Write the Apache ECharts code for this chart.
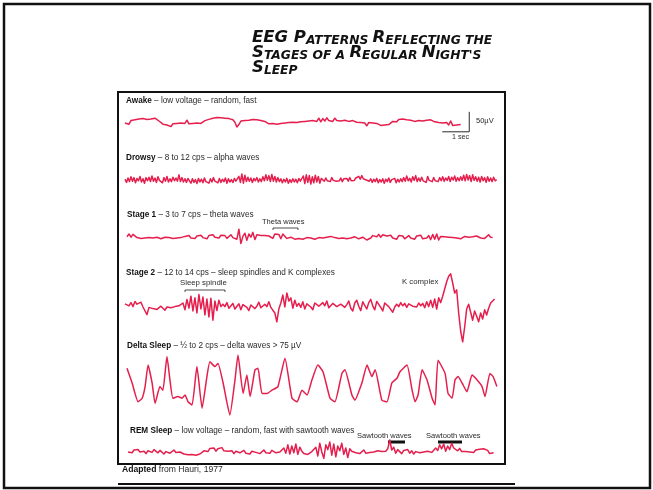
<!DOCTYPE html>
<html lang="en">
<head>
<meta charset="UTF-8">
<script src="https://cdn.jsdelivr.net/npm/echarts@6/dist/echarts.min.js"></script>
<style>html,body{margin:0;padding:0;background:#fff;}</style>
</head>
<body>
<div id="eegChart" style="width:653px;height:490px;"></div>
<script type="text/javascript">

// EEG amplitudes in µV (up = positive)
var awakeStep = 0.074; // seconds between samples
var awake = [0, 5, -3, 6, 2, 8, 3, 10, 5, 11, 6, 9,
    13, 10, 15, 12, 14, 5,
    2, -3, 1, -5, 0, -9, -2, 1, -1, 2, 0,
    -2, -1, 7, -2, -3, -1, -2, 0, -3, -1,
    3, 6, 4, 9, 7, 12, 8, 14, 10, 13, 9, 12, 15, 11, 14, 8,
    2, -10, -4, 5, 8, 6,
    11, 7, 12, 9, 13, 8, 11, 6, 9, 4,
    1, -2, -5, -1, 0, -3, 1, -1, 2, 0, -2, 1, 0,
    2, 4, 1, 5, 3, 7, 4, 8, 5, 9, 6, 10,
    4, 12, 3, 11, 5, 13, 6, 10, 4, 12, 6, 11, 5, 10, 7, 9, 4, 8, 6, 3,
    2, 4, 1, 3, 0, -7, 1, 3, 0, 2, -1,
    -4, -6, -3, -5, -2, -4, 0,
    4, 7, 3, 9, 6, 10, 5, 8, 11, 7, 9, 4, 8, 6, 10, 5, 9, 7, 5, 8, 4, 3,
    2, 1, 3, 0, 2, 1,
    -5, 5, -6, -3, -5, -2, -4];

var drowsyStep = 0.0555;
var drowsy = [2, -6, 5, -4, 8, -3, 6, -7, 4, -2, 9, -5, 3, -8, 6, -2, 7, -4, 10, -3, 5, -6, 8, -1, 4, -7, 6, -3, 9, -5, 3, -4, 7, -2,
    5, -3, 13, -4, 6, -5, 3, -6, 4,
    -2, -8, 3, -6, 1, -9, 4, -5, 2, -7, 5, -4, 0, -8, 3, -5, 6, -3, 1, -7, 4, -6, 2, -4, 5, -8, 3, -5, 1, -6, 4, -3, 2,
    9, -6, 15, -8, 12, -4, 7,
    -3, 5, -6, 4, -2, 6, -5, 3, -4,
    8, -2, 13, -1, 11, -4, 14, -3, 9, -5, 6,
    -4, 3, -7, 2, -5, 4, -8, 1, -6, 3, -5, 2, -7, 4, -3, 1,
    10, -9, 13, -6, 11, -10, 8, -7, 12, -5, 9, -8, 4,
    2, -3, 5, -2, 3, -4, 6, -1, 4, -3, 2, -2, 5, -4, 3, -1, 4, -3, 6, -2, 3, -1,
    5, 1, 9, 2, 11, 3, 8, 0, 4,
    -3, 3, -6, 2, -4, 4, -7, 1, -5, 3, -8, 2, -4, 5, -6, 1, -3, 4, -7, 2, -5, 3, -4,
    6, -3, 10, -2, 4, -5, 8, -1, 11, -4, 5, -3, 7, -2, 3, -6, 9, -1, 4, -4, 6, -2,
    3, -4, 6, -2, 8, -3, 5, -1, 9, -4, 7, 0, 10, -3, 6, -2, 8, -1,
    12, -2, 14, 0, 11, -4, 13, -1, 8,
    -3, 7, -5, 9, -2, 6, -6, 8, -3, 5, -4, 7, -2, 1];

var stage1Step = 0.074;
var stage1 = [3, 10, 2, 9, 4,
    1, 3, -1, 2, 0, -2, 1, 3, 0, -1, 2, 1, -2, 0, 2, -1,
    1, 4, -1, 3, 0, 5, 1, -2, 4, 2, 6, 0, 3, -1, 5, 2, 7, 1, 4, -2, 6, 3, 8, 2,
    5, 0, 7, 2, 6, -1, 4, 8, 1, 5, -3,
    22, -14, 4,
    12, -6, 10, 2, 14, -4, 8, 3, 6,
    4, 6, 3, 5, 4,
    -1, 10, 11, 9, -2, 10, 10, -1,
    -6, 2, 0, -3,
    -2, -1, 0, -3, -1, 1, -2, 0, -1, -3, 0, 1, -2, 0, 1, 2,
    7, 4, 8, 1,
    2, -1, 3, 0, 1, -2, 2, 0, -1, 3, 1, -2, 0, 2, -3, -5, -1, 0,
    6, 11, 3, 9, 2, 8, 4,
    5, 1, 7, 0, 4, -3, 6, 2, 5, -2, 3, 6, 0, 4, -3, 5, 1, 7, -2, 3, 0, 6, -4, 9, -3, 10, -5, 4, 1, 3, 0,
    2, -1, 1, 3, 0, 2, -2, 1, 4, 0, 2, -1, 3, 1, 5, 2, 0, 3, -1, 1,
    8, 2, 1];

var stage2Step = 0.074;
var stage2 = [3, 8, -2, 6, -4, 9, 2, -3, 7, -5, 0,
    -24,
    -6, -2, -9, -4, -11, -6, -3, -8, -13, -5, -2, -7, -10, -4, -6, -2, -5,
    5, -12, 14, -8, 22, -15, 18, -20, 26, -10, 20, -25, 15, -30, 17, -38, 10, -14, 12, -4,
    2, -4, 6, -8, -3, 4, -10, -5, 3, -12, 1, 6, -6, -14, 0, 5, -9, -3, 7, -7, -12, 2, -4, 8, -6, -2,
    -20, -42, -10, 5,
    25, -5, 30, 10, 18, -8, 12, -3,
    4, -6, 8, -10, 3, 7, -5, -12, 5, 9, -3, -8, 6, -2, 10, -7, -11, 4, 8, -4, -9, 2, 6, -6, 1,
    10, -8, -15, 5, 12, -3, -14, 8, 11, -10,
    6, 14, -2, -12, 9, 13, -6, -15, 5, 10, -4, -9, -18, -5,
    2, -4, 6, -2, 4, -6, 3, 7, -3, 1, -5, 5, -2, 4, -7, 8, -4, 12, -6, 15, -10, 18, 6,
    22, 40, 58, 72, 78,
    55, 30, 38,
    -20, -65, -92,
    -55, -10, 2,
    -18, -38, -15, -28, -42, -20, -35, -12, -25, -8, 5, 2, 15];

// delta sleep: turning points of the slow waves (seconds, µV)
var deltaTime = [0.00, 0.19, 0.41, 0.56, 0.67, 0.78, 0.93, 1.04, 1.22, 1.33, 1.48, 1.59, 1.70, 1.89, 2.04, 2.15,
    2.26, 2.41, 2.59, 2.78, 2.96, 3.07, 3.26, 3.37, 3.56, 3.81, 4.00, 4.11, 4.30, 4.44, 4.56, 4.74,
    4.85, 5.00, 5.19, 5.37, 5.59, 5.85, 6.11, 6.30, 6.48, 6.67, 6.85, 7.07, 7.26, 7.52, 7.70, 7.96,
    8.07, 8.33, 8.44, 8.70, 8.89, 9.07, 9.19, 9.44, 9.63, 9.81, 10.00, 10.11, 10.37, 10.56, 10.67, 10.78,
    10.93, 11.11, 11.30, 11.41, 11.52, 11.78, 11.89, 12.04, 12.15, 12.26, 12.41, 12.59, 12.78, 12.96, 13.15, 13.26,
    13.44, 13.56, 13.70];
var delta = [37, 0, -47, -38, -9, 45, 0, -51, -9, -18, 66, 8, -38, -34, -38, -30,
    -47, -55, 41, -63, 16, 53, 41, 49, 0, -80, 8, 70, -26, 20, -34, 33,
    37, -26, -26, -18, -9, 62, -38, -47, -18, -30, 8, 45, 28, -38, -47, 24,
    33, -30, -43, 0, 45, 16, 33, -43, -47, 0, 12, 28, 45, -18, -47, -30,
    33, 8, -38, -55, 57, 24, -26, -38, 8, 16, 0, -22, 20, 8, -9, -34,
    24, 16, -9];

var remStep = 0.074;
var rem = [0, 4, -2, 5, 1, 6, 0, -3, 2, -4, 3, 5, -1, 6, 2, -2, 4, 0, -5, 1, 3, -3, 2, 5, -1, 3, 0, -2,
    -5, -3, -7, -2, -6, -4, -8, -3, -5, -1,
    3, 6, 1, 9, 4, 10, 2, 8, 5, 11, 3, 7, 2,
    -1, 3, -4, 2, 5, -2, 0, 4, -3, 1, -5, 2, 4, -1, 3, -4, 0, 5, -2, 2, -3, 4, 1, -2, 3, 0, 2,
    10, -3, 18, -5, 15, -2, 20, -6, 12, 2,
    -4, 0, -6, -2, 1, -3,
    12, -10, 22, 0, -16, 18, 6, 25, -8, 20, -12, 15, 3, 22, -6, 10, -14, 8, 2, 5,
    -2, 3, -4, 1, 5, -3, 2, -1, 4, 0, -3, 3, 6, 1, 4, 2,
    8, 30, 5, 12, -3, 6,
    2, -4, 4, 0, 6, -3, 3, -5, 1, 5, -2, 3, 0, -4, 2, 5, -1, 3,
    10, 4, 18, 8, 20, 2, 15, 6, 22, 10, 14, 3, 9, 1,
    -2, 1, -3, 0, 2, -1,
    5, 9, 7, 12, 8, 10, 4,
    -4, -6, -2];

// calibration bar on the awake trace: 1 sec, 50 µV
var scaleBarTime = [11.75, 12.75, 12.75];
var scaleBarUv = [-22, -22, 28];

var pxPerSec = 27;
var uvPerPx = 2.5;
var traceColor = "#e51f4d";
var inkColor = "#2a2a2a";
var fontFamily = "Liberation Sans";

function uniformPairs(values, step) {
    return values.map((v, i) => [i * step, v]);
}

var traces = [
    { data: uniformPairs(awake, awakeStep), left: 125, mid: 123, height: 40, span: scaleBarTime[2] },
    { data: uniformPairs(drowsy, drowsyStep), left: 125, mid: 180, height: 40 },
    { data: uniformPairs(stage1, stage1Step), left: 127, mid: 238, height: 40 },
    { data: uniformPairs(stage2, stage2Step), left: 125, mid: 305, height: 100 },
    { data: deltaTime.map((t, i) => [t, delta[i]]), left: 127, mid: 383, height: 80, smooth: 0.15 },
    { data: uniformPairs(rem, remStep), left: 128, mid: 452, height: 30 }
];

var grids = [], xAxes = [], yAxes = [], series = [];
traces.forEach(function (tr, i) {
    var duration = Math.max(tr.data[tr.data.length - 1][0], tr.span || 0);
    var half = tr.height / 2 * uvPerPx;
    grids.push({ left: tr.left, top: tr.mid - tr.height / 2, width: duration * pxPerSec, height: tr.height });
    xAxes.push({ type: "value", gridIndex: i, min: 0, max: duration, show: false });
    yAxes.push({ type: "value", gridIndex: i, min: -half, max: half, show: false });
    series.push({
        type: "line", xAxisIndex: i, yAxisIndex: i, data: tr.data,
        showSymbol: false, smooth: tr.smooth || false, clip: false,
        lineStyle: { color: traceColor, width: 1.5, join: "round" }
    });
});

series.push({
    type: "line", xAxisIndex: 0, yAxisIndex: 0, clip: false, showSymbol: false,
    data: scaleBarTime.map((t, i) => [t, scaleBarUv[i]]),
    lineStyle: { color: inkColor, width: 1 }
});

function label(x, y, text, size, extra) {
    return Object.assign({
        type: "text", x: x, y: y,
        style: {
            text: text, fontSize: size || 8.2, fontFamily: fontFamily, fill: inkColor,
            verticalAlign: "middle",
            rich: { b: { fontWeight: "bold", fontSize: size || 8.2, fontFamily: fontFamily, fill: "#111" } }
        }
    }, extra || {});
}

function titleLine(y, text) {
    var base = { fontWeight: "bold", fontStyle: "italic", fontFamily: "DejaVu Sans", fill: "#111", verticalAlign: "bottom" };
    return {
        type: "text", x: 252, y: y,
        style: {
            text: text, verticalAlign: "middle",
            rich: {
                c: Object.assign({ fontSize: 16.5, lineHeight: 17 }, base),
                s: Object.assign({ fontSize: 12.3, lineHeight: 16 }, base)
            }
        }
    };
}

function hline(x1, x2, y, w) {
    return { type: "line", shape: { x1: x1, y1: y, x2: x2, y2: y }, style: { stroke: "#111", lineWidth: w || 1 } };
}
function bracket(x1, x2, y) {
    return { type: "polyline", shape: { points: [[x1, y + 2], [x1, y], [x2, y], [x2, y + 2]] }, style: { stroke: "#222", lineWidth: 0.8, fill: null } };
}

var graphics = [
    { type: "rect", shape: { x: 4, y: 4, width: 646, height: 484 }, style: { stroke: "#111", lineWidth: 2.5, fill: null } },
    { type: "rect", shape: { x: 118, y: 92, width: 387, height: 372 }, style: { stroke: "#111", lineWidth: 2, fill: null } },
    hline(118, 515, 484, 2),
    titleLine(38, "{c|EEG P}{s|ATTERNS }{c|R}{s|EFLECTING THE}"),
    titleLine(53, "{c|S}{s|TAGES OF A }{c|R}{s|EGULAR }{c|N}{s|IGHT'S}"),
    titleLine(68, "{c|S}{s|LEEP}"),
    label(126, 101, "{b|Awake} – low voltage – random, fast"),
    label(126, 158, "{b|Drowsy} – 8 to 12 cps – alpha waves"),
    label(127, 215, "{b|Stage 1} – 3 to 7 cps – theta waves"),
    label(126, 273, "{b|Stage 2} – 12 to 14 cps – sleep spindles and K complexes"),
    label(127, 346, "{b|Delta Sleep} – ½ to 2 cps – delta waves > 75 µV"),
    label(130, 431, "{b|REM Sleep} – low voltage – random, fast with sawtooth waves"),
    label(262, 222, "Theta waves", 7.5),
    bracket(273, 298, 228),
    label(180, 283, "Sleep spindle", 7.8),
    bracket(185, 225, 290),
    label(402, 282, "K complex", 7.8),
    label(357, 436, "Sawtooth waves", 7.5),
    label(426, 436, "Sawtooth waves", 7.5),
    hline(388, 405, 442, 3),
    hline(438, 462, 442, 3),
    label(476, 121, "50µV", 7.5),
    label(452, 137, "1 sec", 7.2),
    label(122, 470, "{b|Adapted} from Hauri, 1977", 8.6)
];

var chart = echarts.init(document.getElementById("eegChart"));
chart.setOption({
    animation: false,
    backgroundColor: "#fff",
    grid: grids,
    xAxis: xAxes,
    yAxis: yAxes,
    series: series,
    graphic: graphics
});
</script>
</body>
</html>
